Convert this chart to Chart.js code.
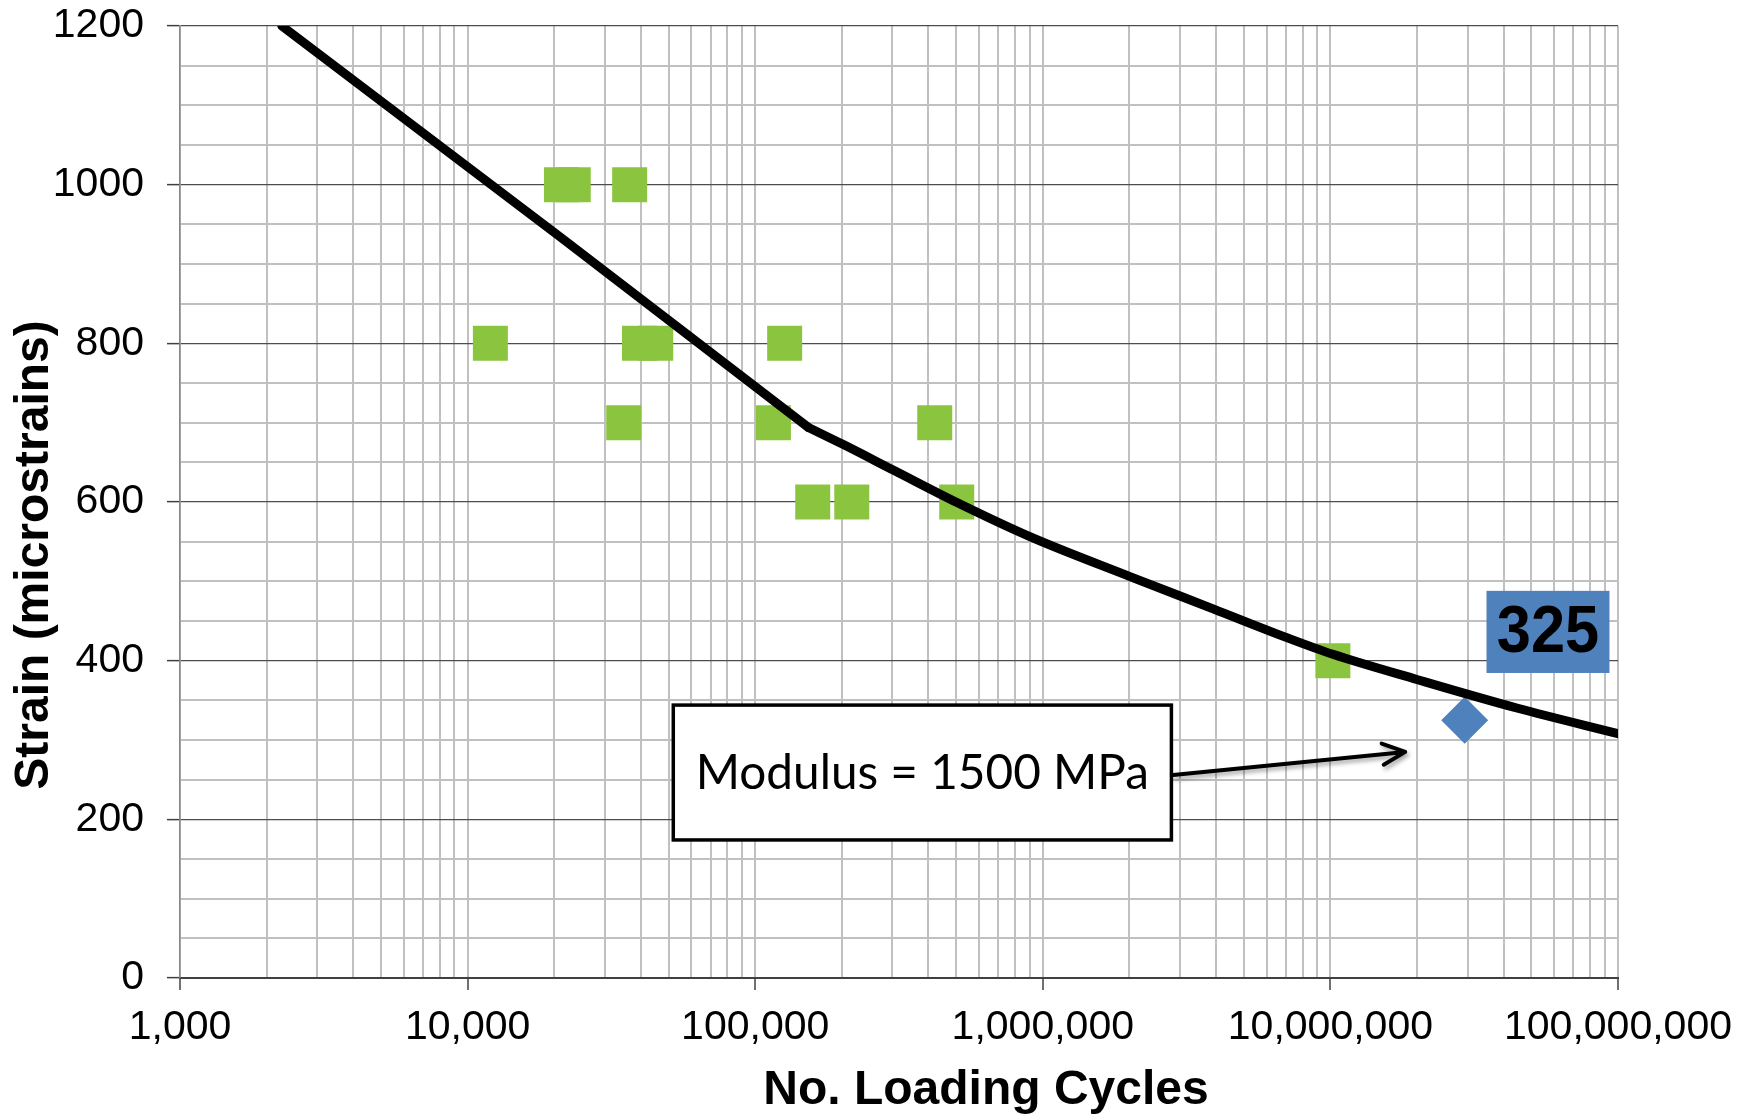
<!DOCTYPE html>
<html>
<head>
<meta charset="utf-8">
<title>Strain vs loading cycles</title>
<script src="https://cdn.jsdelivr.net/npm/chart.js@4.4.1/dist/chart.umd.min.js"></script>
<style>
  html, body { margin: 0; padding: 0; background: #fff; }
  canvas { display: block; }
</style>
</head>
<body>
<canvas id="fatigue-chart" width="1760" height="1120"></canvas>
<script>
// =============================================================================
// DATA
// =============================================================================

// Test results (green squares)
const testCycles = [12000, 21200, 23300, 36600, 34900, 39600, 45100, 115700, 126600, 158500, 216700, 421000, 502000, 10200000];
const testStrain = [800, 1000, 1000, 1000, 700, 800, 800, 700, 800, 600, 600, 700, 600, 400];

// Design point (blue diamond)
const designCycles = [29300000];
const designStrain = [325];

// Fatigue curve: straight part up to the kink, then the curved part
const curveStraightCycles = [2260, 21000, 153000];
const curveStraightStrain = [1200, 934, 694];
const curveBentCycles = [153000, 201000, 303000, 505000, 906000, 2010000, 3930000, 7060000, 10200000, 20100000, 44800000, 100000000];
const curveBentStrain = [694, 673, 640, 599, 556, 506, 465, 429, 408, 376, 340, 308];

// Axis ticks
const xDecades = [1e3, 1e4, 1e5, 1e6, 1e7, 1e8];
const xMinorSteps = [2, 3, 4, 5, 6, 7, 8, 9];
const yMajorStep = 200;
const yMinorStep = 50;

// Texts
const yTitle = 'Strain (microstrains)';
const xTitle = 'No. Loading Cycles';
const noteText = 'Modulus = 1500 MPa';
const designLabel = '325';

// Annotation anchors in data units
const noteBox = { xMin: 51900, xMax: 2800000, yMin: 174, yMax: 344 };
const noteArrow = { fromX: 2840000, fromY: 256, toX: 18200000, toY: 285 };
const labelBox = { xMin: 34900000, xMax: 93400000, yMin: 384.5, yMax: 488 };

// =============================================================================
// HELPERS
// =============================================================================

const toPoints = (xs, ys) => xs.map((x, i) => ({ x: x, y: ys[i] }));
const isDecade = (v) => xDecades.includes(v);
const isYMajor = (v) => v % yMajorStep === 0;

const xTickValues = [];
xDecades.forEach(d => {
  xTickValues.push(d);
  if (d < 1e8) xMinorSteps.forEach(m => xTickValues.push(m * d));
});

const FONT = "'Liberation Sans', Arial, sans-serif";
const GREEN = '#8BC53F';
const BLUE = '#4F81BD';

// =============================================================================
// ANNOTATION PLUGIN (text box, arrow, value label, axis titles)
// =============================================================================

const annotationsPlugin = {
  id: 'annotations',
  afterDatasetsDraw(chart) {
    const { ctx, scales: { x, y } } = chart;

    // Modulus note box
    const bx0 = x.getPixelForValue(noteBox.xMin);
    const bx1 = x.getPixelForValue(noteBox.xMax);
    const by0 = y.getPixelForValue(noteBox.yMax);
    const by1 = y.getPixelForValue(noteBox.yMin);
    ctx.save();
    ctx.fillStyle = '#fff';
    ctx.fillRect(bx0, by0, bx1 - bx0, by1 - by0);
    ctx.strokeStyle = '#000';
    ctx.lineWidth = 3.5;
    ctx.strokeRect(bx0, by0, bx1 - bx0, by1 - by0);

    // fit the note text to the width it has in the picture
    let size = 48;
    ctx.font = size + "px Lato, 'Open Sans', sans-serif";
    size = size * 453 / ctx.measureText(noteText).width;
    ctx.font = size.toFixed(1) + "px Lato, 'Open Sans', sans-serif";
    ctx.fillStyle = '#000';
    ctx.textAlign = 'center';
    ctx.textBaseline = 'middle';
    ctx.fillText(noteText, (bx0 + bx1) / 2, (by0 + by1) / 2 + 1);
    ctx.restore();

    // Arrow from the box towards the design point
    const ax0 = x.getPixelForValue(noteArrow.fromX);
    const ay0 = y.getPixelForValue(noteArrow.fromY);
    const ax1 = x.getPixelForValue(noteArrow.toX);
    const ay1 = y.getPixelForValue(noteArrow.toY);
    const ang = Math.atan2(ay1 - ay0, ax1 - ax0);
    const head = 25, spread = 0.44;
    ctx.save();
    ctx.shadowColor = 'rgba(0,0,0,0.35)';
    ctx.shadowBlur = 4;
    ctx.shadowOffsetX = 2;
    ctx.shadowOffsetY = 3;
    ctx.strokeStyle = '#000';
    ctx.lineWidth = 4;
    ctx.lineCap = 'round';
    ctx.lineJoin = 'round';
    ctx.beginPath();
    ctx.moveTo(ax0, ay0);
    ctx.lineTo(ax1, ay1);
    ctx.moveTo(ax1 - head * Math.cos(ang - spread), ay1 - head * Math.sin(ang - spread));
    ctx.lineTo(ax1, ay1);
    ctx.lineTo(ax1 - head * Math.cos(ang + spread), ay1 - head * Math.sin(ang + spread));
    ctx.stroke();
    ctx.restore();

    // Value label for the design point (text a bit condensed, as in the picture)
    const lx0 = x.getPixelForValue(labelBox.xMin);
    const lx1 = x.getPixelForValue(labelBox.xMax);
    const ly0 = y.getPixelForValue(labelBox.yMax);
    const ly1 = y.getPixelForValue(labelBox.yMin);
    ctx.save();
    ctx.fillStyle = BLUE;
    ctx.fillRect(lx0, ly0, lx1 - lx0, ly1 - ly0);
    ctx.fillStyle = '#000';
    ctx.font = 'bold 66px ' + FONT;
    ctx.textAlign = 'center';
    ctx.textBaseline = 'middle';
    ctx.translate((lx0 + lx1) / 2, (ly0 + ly1) / 2 + 2);
    ctx.scale(0.93, 1);
    ctx.fillText(designLabel, 0, 0);
    ctx.restore();
  },
  afterDraw(chart) {
    const { ctx } = chart;
    ctx.save();
    ctx.fillStyle = '#000';
    ctx.font = 'bold 48px ' + FONT;
    ctx.textAlign = 'center';
    ctx.textBaseline = 'middle';
    ctx.fillText(xTitle, 986, 1091);
    ctx.translate(35, 555);
    ctx.rotate(-Math.PI / 2);
    ctx.fillText(yTitle, 0, 0);
    ctx.restore();
  }
};

// =============================================================================
// CHART
// =============================================================================

const tickFont = { family: FONT, size: 41 };

new Chart(document.getElementById('fatigue-chart').getContext('2d'), {
  type: 'scatter',
  data: {
    datasets: [
      {
        label: 'Fatigue curve',
        data: toPoints(curveStraightCycles, curveStraightStrain),
        showLine: true,
        borderColor: '#000',
        borderWidth: 9,
        borderCapStyle: 'round',
        pointRadius: 0,
        tension: 0,
        order: 0
      },
      {
        label: 'Fatigue curve (bent)',
        data: toPoints(curveBentCycles, curveBentStrain),
        showLine: true,
        borderColor: '#000',
        borderWidth: 9,
        borderCapStyle: 'round',
        pointRadius: 0,
        cubicInterpolationMode: 'monotone',
        order: 0
      },
      {
        label: 'Design',
        data: toPoints(designCycles, designStrain),
        pointStyle: 'rectRot',
        pointRadius: 23.5,
        pointBackgroundColor: BLUE,
        pointBorderWidth: 0,
        order: 1
      },
      {
        label: 'Tests',
        data: toPoints(testCycles, testStrain),
        pointStyle: 'rect',
        pointRadius: 24.75,
        pointBackgroundColor: GREEN,
        pointBorderWidth: 0,
        order: 2
      }
    ]
  },
  options: {
    responsive: false,
    devicePixelRatio: 1,
    animation: false,
    events: [],
    layout: { padding: { top: 26, right: 142, bottom: 0, left: 0 } },
    plugins: {
      legend: { display: false },
      tooltip: { enabled: false }
    },
    scales: {
      x: {
        type: 'logarithmic',
        min: 1000,
        max: 1e8,
        afterBuildTicks: (scale) => {
          scale.ticks = xTickValues.map(v => ({ value: v }));
        },
        afterFit: (scale) => { scale.height = 142; },
        border: { color: '#404040', width: 2 },
        grid: {
          color: '#c0c0c0',
          lineWidth: 2,
          tickLength: 12,
          tickWidth: 1.5,
          tickColor: (c) => (c.tick && isDecade(c.tick.value)) ? '#404040' : 'rgba(0,0,0,0)'
        },
        ticks: {
          autoSkip: false,
          maxRotation: 0,
          minRotation: 0,
          padding: 13,
          color: '#000',
          font: tickFont,
          callback: (v) => isDecade(v) ? Number(v).toLocaleString('en-US') : ''
        }
      },
      y: {
        min: 0,
        max: 1200,
        afterFit: (scale) => {
          scale.width = 180;
          // label padding would otherwise push the plot top down
          scale.paddingTop = 20;
          scale.paddingBottom = 0;
        },
        border: { color: '#868686', width: 1.5 },
        grid: {
          color: (c) => (c.tick && isYMajor(c.tick.value)) ? '#4d4d4d' : '#c0c0c0',
          lineWidth: (c) => (c.tick && isYMajor(c.tick.value)) ? 1.25 : 2,
          tickLength: 13,
          tickWidth: 1.5,
          tickColor: (c) => (c.tick && isYMajor(c.tick.value)) ? '#404040' : 'rgba(0,0,0,0)'
        },
        ticks: {
          stepSize: yMinorStep,
          autoSkip: false,
          padding: 23,
          color: '#000',
          font: tickFont,
          callback: (v) => isYMajor(v) ? String(v) : ''
        }
      }
    }
  },
  plugins: [annotationsPlugin]
});
</script>
</body>
</html>
